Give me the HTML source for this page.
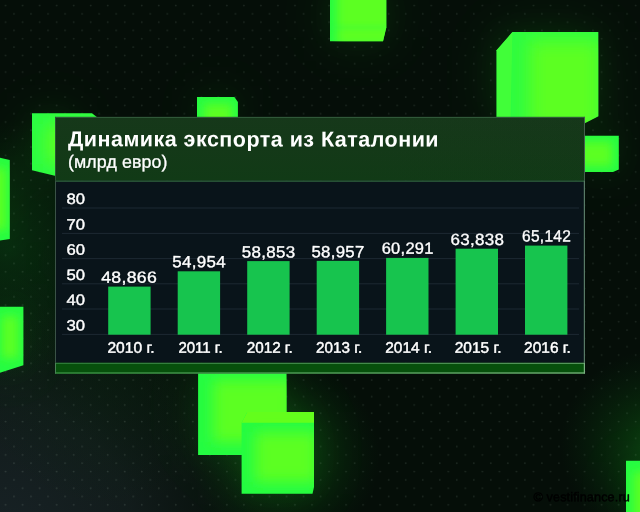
<!DOCTYPE html>
<html lang="ru">
<head>
<meta charset="utf-8">
<title>Динамика экспорта из Каталонии</title>
<style>
html,body{margin:0;padding:0;}
body{width:640px;height:512px;overflow:hidden;background:#050e08;position:relative;font-family:"Liberation Sans",sans-serif;color:#fff;}
#bg{position:absolute;left:0;top:0;width:640px;height:512px;display:block;}
.t{position:absolute;white-space:nowrap;line-height:1;transform-origin:50% 50%;}
.title{font-size:21.5px;font-weight:bold;letter-spacing:0.48px;}
.sub{font-size:17.8px;letter-spacing:0.1px;-webkit-text-stroke:0.3px #fff;}
.ax{font-size:15px;-webkit-text-stroke:0.4px #fff;}
.val{font-size:16.3px;letter-spacing:0.3px;-webkit-text-stroke:0.35px #fff;}
.yr{font-size:15.3px;-webkit-text-stroke:0.45px #fff;}
.wm{font-size:12.7px;color:#000;letter-spacing:0.1px;-webkit-text-stroke:0.4px #000;}
</style>
</head>
<body>
<svg id="bg" width="640" height="512" viewBox="0 0 640 512">
<defs>
<pattern id="dots" x="0" y="0" width="17.03" height="16.645" patternUnits="userSpaceOnUse">
<circle cx="5.5" cy="5.5" r="0.95" fill="#cfe8d8" fill-opacity="0.145"/>
<circle cx="14.02" cy="13.82" r="0.95" fill="#cfe8d8" fill-opacity="0.145"/>
</pattern>
<radialGradient id="gray" cx="0" cy="540" r="300" gradientUnits="userSpaceOnUse"><stop offset="0" stop-color="#182226" stop-opacity="1"/><stop offset="0.45" stop-color="#151f20" stop-opacity="0.8"/><stop offset="1" stop-color="#0a1410" stop-opacity="0"/></radialGradient>
<radialGradient id="gl2" cx="110" cy="370" r="140" gradientUnits="userSpaceOnUse"><stop offset="0" stop-color="#072a0c" stop-opacity="0.3"/><stop offset="1" stop-color="#072a0c" stop-opacity="0"/></radialGradient>
<radialGradient id="gl1" cx="10" cy="250" r="130" gradientUnits="userSpaceOnUse"><stop offset="0" stop-color="#083010" stop-opacity="0.8"/><stop offset="1" stop-color="#083010" stop-opacity="0"/></radialGradient>
<radialGradient id="gl3" cx="655" cy="445" r="95" gradientUnits="userSpaceOnUse"><stop offset="0" stop-color="#0c4a12" stop-opacity="0.85"/><stop offset="0.5" stop-color="#093a0e" stop-opacity="0.45"/><stop offset="1" stop-color="#083010" stop-opacity="0"/></radialGradient>
<radialGradient id="gl4" cx="285" cy="455" r="95" gradientUnits="userSpaceOnUse"><stop offset="0" stop-color="#0a4010" stop-opacity="0.8"/><stop offset="0.5" stop-color="#093a0e" stop-opacity="0.4"/><stop offset="1" stop-color="#083010" stop-opacity="0"/></radialGradient>
<linearGradient id="dg" x1="0" y1="512" x2="640" y2="0" gradientUnits="userSpaceOnUse"><stop offset="0" stop-color="#fff"/><stop offset="0.35" stop-color="#ddd"/><stop offset="1" stop-color="#ccc"/></linearGradient>
<mask id="dm" maskUnits="userSpaceOnUse" x="0" y="0" width="640" height="512"><rect width="640" height="512" fill="url(#dg)"/></mask>
<linearGradient id="hd" x1="0" y1="0" x2="0" y2="1"><stop offset="0" stop-color="#16381a"/><stop offset="0.5" stop-color="#143918"/><stop offset="1" stop-color="#113a16"/></linearGradient>
<linearGradient id="fb1" x1="0" y1="0" x2="1" y2="0"><stop offset="0" stop-color="#348440"/><stop offset="1" stop-color="#68a86e"/></linearGradient>
<linearGradient id="fb2" x1="0" y1="0" x2="1" y2="0"><stop offset="0" stop-color="#3e9848"/><stop offset="1" stop-color="#80ba84"/></linearGradient>
<linearGradient id="hd2" x1="0" y1="0" x2="1" y2="0"><stop offset="0.55" stop-color="#1c2c22" stop-opacity="0"/><stop offset="1" stop-color="#1c2c22" stop-opacity="0.04"/></linearGradient>
<filter id="cb" x="-50%" y="-50%" width="200%" height="200%"><feGaussianBlur stdDeviation="9"/></filter>
<filter id="cb3" x="-50%" y="-50%" width="200%" height="200%"><feGaussianBlur stdDeviation="7"/></filter>
<filter id="cb4" x="-50%" y="-100%" width="200%" height="300%"><feGaussianBlur stdDeviation="2"/></filter>
<filter id="cb2" x="-50%" y="-50%" width="200%" height="200%"><feGaussianBlur stdDeviation="5"/></filter>
<filter id="blur2" x="-100%" y="-100%" width="300%" height="300%"><feGaussianBlur stdDeviation="30"/></filter>
<filter id="blur" x="-50%" y="-50%" width="200%" height="200%"><feGaussianBlur stdDeviation="14"/></filter>
<radialGradient id="c1" cx="358" cy="8" r="44" gradientUnits="userSpaceOnUse"><stop offset="0" stop-color="#5aff22"/><stop offset="0.45" stop-color="#57ff24"/><stop offset="1" stop-color="#20fd44"/></radialGradient>
<radialGradient id="c2" cx="564" cy="78" r="68" gradientUnits="userSpaceOnUse"><stop offset="0" stop-color="#5aff22"/><stop offset="0.45" stop-color="#57ff24"/><stop offset="1" stop-color="#20fd44"/></radialGradient>
<radialGradient id="c3" cx="602" cy="153" r="27" gradientUnits="userSpaceOnUse"><stop offset="0" stop-color="#5aff22"/><stop offset="0.45" stop-color="#57ff24"/><stop offset="1" stop-color="#20fd44"/></radialGradient>
<radialGradient id="c4" cx="217" cy="110" r="26" gradientUnits="userSpaceOnUse"><stop offset="0" stop-color="#5aff22"/><stop offset="0.45" stop-color="#57ff24"/><stop offset="1" stop-color="#20fd44"/></radialGradient>
<radialGradient id="c5" cx="66" cy="142" r="44" gradientUnits="userSpaceOnUse"><stop offset="0" stop-color="#5aff22"/><stop offset="0.45" stop-color="#57ff24"/><stop offset="1" stop-color="#20fd44"/></radialGradient>
<radialGradient id="c6" cx="-18" cy="200" r="52" gradientUnits="userSpaceOnUse"><stop offset="0" stop-color="#5aff22"/><stop offset="0.45" stop-color="#57ff24"/><stop offset="1" stop-color="#20fd44"/></radialGradient>
<radialGradient id="c7" cx="6" cy="338" r="42" gradientUnits="userSpaceOnUse"><stop offset="0" stop-color="#5aff22"/><stop offset="0.45" stop-color="#57ff24"/><stop offset="1" stop-color="#20fd44"/></radialGradient>
<radialGradient id="c8" cx="252" cy="406" r="66" gradientUnits="userSpaceOnUse"><stop offset="0" stop-color="#5aff22"/><stop offset="0.45" stop-color="#57ff24"/><stop offset="1" stop-color="#20fd44"/></radialGradient>
<radialGradient id="c9" cx="284" cy="458" r="56" gradientUnits="userSpaceOnUse"><stop offset="0" stop-color="#5aff22"/><stop offset="0.45" stop-color="#57ff24"/><stop offset="1" stop-color="#20fd44"/></radialGradient>
<radialGradient id="c10" cx="650" cy="498" r="46" gradientUnits="userSpaceOnUse"><stop offset="0" stop-color="#5aff22"/><stop offset="0.45" stop-color="#57ff24"/><stop offset="1" stop-color="#20fd44"/></radialGradient>
</defs>
<rect width="640" height="512" fill="#050e08"/>
<rect width="640" height="512" fill="url(#gray)"/>
<rect width="640" height="512" fill="url(#gl1)"/>
<rect width="640" height="512" fill="url(#gl2)"/>
<rect width="640" height="512" fill="url(#gl3)"/>
<rect width="640" height="512" fill="url(#gl4)"/>
<g filter="url(#blur2)" opacity="0.1">
<rect x="330" y="-10" width="56" height="51" fill="#30ff30"/>
<rect x="496" y="32" width="102" height="90" fill="#30ff30"/>
<rect x="585" y="135" width="34" height="37" fill="#30ff30"/>
<rect x="197" y="97" width="41" height="25" fill="#30ff30"/>
<rect x="32" y="113" width="40" height="60" fill="#30ff30"/>
<rect x="-10" y="158" width="20" height="82" fill="#30ff30"/>
<rect x="-10" y="307" width="33" height="62" fill="#30ff30"/>
<rect x="198" y="370" width="88" height="85" fill="#30ff30"/>
<rect x="242" y="412" width="72" height="82" fill="#30ff30"/>
<rect x="626" y="461" width="24" height="60" fill="#30ff30"/>
</g>
<g filter="url(#blur)" opacity="0.05">
<rect x="330" y="-10" width="56" height="51" fill="#30ff30"/>
<rect x="496" y="32" width="102" height="90" fill="#30ff30"/>
<rect x="585" y="135" width="34" height="37" fill="#30ff30"/>
<rect x="197" y="97" width="41" height="25" fill="#30ff30"/>
<rect x="32" y="113" width="40" height="60" fill="#30ff30"/>
<rect x="-10" y="158" width="20" height="82" fill="#30ff30"/>
<rect x="-10" y="307" width="33" height="62" fill="#30ff30"/>
<rect x="198" y="370" width="88" height="85" fill="#30ff30"/>
<rect x="242" y="412" width="72" height="82" fill="#30ff30"/>
<rect x="626" y="461" width="24" height="60" fill="#30ff30"/>
</g>
<rect width="640" height="512" fill="url(#dots)" mask="url(#dm)"/>
<clipPath id="k1"><polygon points="330,0 386.3,0 386.3,27.5 383,41.3 330,41.3"/></clipPath>
<clipPath id="k2"><polygon points="496.5,50.2 512.4,32 598.3,32 598.3,116.2 585,123 496.5,123"/></clipPath>
<clipPath id="k3"><polygon points="585,135.8 618.8,135.8 618.8,169.6 613,172 585,172"/></clipPath>
<clipPath id="k4"><polygon points="197,97 234.4,97 237.9,102 237.9,120 197,120"/></clipPath>
<clipPath id="k5"><polygon points="32,113.2 92,113.2 98,118 60,177 32,170.3"/></clipPath>
<clipPath id="k6"><polygon points="0,157.8 9.8,160 9.8,239 0,240.5"/></clipPath>
<clipPath id="k7"><polygon points="0,306.8 23.4,306.8 23.4,365.3 0,372.8"/></clipPath>
<clipPath id="k8"><polygon points="198.1,370 286.5,370 286.5,455.1 198.1,455.1"/></clipPath>
<clipPath id="k9"><polygon points="241.6,422.8 247.2,412 314,412 314,487 312.5,493.7 241.6,493.7"/></clipPath>
<clipPath id="k10"><polygon points="626,460.7 640,460.7 640,512 626,512"/></clipPath>
<g clip-path="url(#k1)"><rect x="320" y="-10" width="80" height="60" fill="#26fc42"/><rect x="337" y="-30" width="54" height="76" fill="#5cff20" filter="url(#cb2)"/><polygon points="330,25 386.3,25 386.3,30 330,30" fill="#30fa48" opacity="0.3" filter="url(#cb4)"/></g>
<g clip-path="url(#k2)"><rect x="490" y="25" width="115" height="105" fill="#2efc40"/><rect x="529" y="40" width="72" height="90" fill="#5cff20" filter="url(#cb)"/><polygon points="496.5,50.2 512.4,32 510.5,123 496.5,123" fill="#4aff36" opacity="0.7"/></g>
<g clip-path="url(#k3)"><rect x="580" y="130" width="45" height="45" fill="#26fc42"/><rect x="580" y="142" width="32" height="24" fill="#5cff20" filter="url(#cb2)"/></g>
<g clip-path="url(#k4)"><rect x="190" y="90" width="55" height="35" fill="#26fc42"/><rect x="204" y="104" width="28" height="24" fill="#5cff20" filter="url(#cb2)"/></g>
<g clip-path="url(#k5)"><rect x="25" y="105" width="80" height="80" fill="#2afc44"/><rect x="46" y="124" width="60" height="40" fill="#5cff20" filter="url(#cb)"/></g>
<g clip-path="url(#k6)"><rect x="-5" y="150" width="20" height="100" fill="#26fc42"/><rect x="-20" y="168" width="26" height="62" fill="#5cff20" filter="url(#cb2)"/></g>
<g clip-path="url(#k7)"><rect x="-5" y="300" width="35" height="80" fill="#26fc42"/><rect x="2" y="316" width="16" height="42" fill="#5cff20" filter="url(#cb2)"/></g>
<g clip-path="url(#k8)"><rect x="190" y="365" width="105" height="95" fill="#24fc42"/><rect x="213" y="380" width="80" height="62" fill="#5cff20" filter="url(#cb3)"/></g>
<g clip-path="url(#k9)"><rect x="235" y="405" width="85" height="95" fill="#24fc42"/><rect x="255" y="432" width="62" height="50" fill="#5cff20" filter="url(#cb3)"/><polygon points="241.6,422.8 247.2,412 314,412 314,422.8" fill="#78ff10" opacity="0.75"/></g>
<g clip-path="url(#k10)"><rect x="620" y="455" width="25" height="60" fill="#26fc42"/><rect x="634" y="472" width="20" height="50" fill="#5cff20" filter="url(#cb2)"/></g>
<g>
<rect x="55.0" y="116.9" width="530.0" height="63.69999999999999" fill="url(#hd)"/>
<rect x="55.0" y="116.9" width="530.0" height="63.69999999999999" fill="url(#hd2)"/>
<rect x="55.0" y="180.6" width="530.0" height="182.20000000000002" fill="#09141a"/>
<rect x="55.0" y="362.8" width="530.0" height="10.800000000000011" fill="#07500c"/>
<rect x="55.0" y="116.9" width="530.0" height="1" fill="#335c3e"/>
<rect x="55.0" y="180.6" width="530.0" height="1" fill="#3a7a48"/>
<rect x="55.0" y="362.8" width="530.0" height="1" fill="url(#fb1)"/>
<rect x="55.0" y="372.40000000000003" width="530.0" height="1.2" fill="url(#fb2)"/>
<rect x="55.0" y="116.9" width="1" height="63.69999999999999" fill="#2c5434"/>
<rect x="584.0" y="116.9" width="1" height="63.69999999999999" fill="#44604c"/>
<rect x="55.0" y="180.6" width="1" height="182.20000000000002" fill="#3a5246"/>
<rect x="583.8" y="180.6" width="1.2" height="182.20000000000002" fill="#587a66"/>
<rect x="55.0" y="362.8" width="1" height="10.800000000000011" fill="#4a8256"/>
<rect x="583.8" y="362.8" width="1.2" height="10.800000000000011" fill="#7ab080"/>
</g>
<rect x="62" y="207.50" width="517" height="1" fill="#1d2832"/>
<rect x="62" y="232.90" width="517" height="1" fill="#1d2832"/>
<rect x="62" y="258.10" width="517" height="1" fill="#1d2832"/>
<rect x="62" y="283.30" width="517" height="1" fill="#1d2832"/>
<rect x="62" y="308.50" width="517" height="1" fill="#1d2832"/>
<rect x="62" y="333.90" width="517" height="1" fill="#1d2832"/>
<rect x="108.2" y="286.6" width="42.4" height="48.10" fill="#17c44e"/>
<rect x="177.7" y="271.3" width="42.4" height="63.40" fill="#17c44e"/>
<rect x="247.2" y="261.1" width="42.4" height="73.60" fill="#17c44e"/>
<rect x="316.7" y="260.85" width="42.4" height="73.85" fill="#17c44e"/>
<rect x="386.1" y="257.9" width="42.4" height="76.80" fill="#17c44e"/>
<rect x="455.6" y="248.7" width="42.4" height="86.00" fill="#17c44e"/>
<rect x="525.0" y="245.6" width="42.4" height="89.10" fill="#17c44e"/>
</svg>
<div class="t title" id="title" style="left:68px;top:129px;transform-origin:0 50%;transform:translate(0.00px,0.30px) rotate(0.03deg) scaleX(1.000)">Динамика экспорта из Каталонии</div>
<div class="t sub" id="sub" style="left:68px;top:153px;transform-origin:0 50%;transform:translate(0.00px,0.70px) rotate(0.03deg) scaleX(1.000)">(млрд евро)</div>
<div class="t ax" style="left:66px;top:191px;transform-origin:0 50%;transform:translate(0.60px,0.10px) rotate(0.03deg) scaleX(1.110)">80</div>
<div class="t ax" style="left:66px;top:216px;transform-origin:0 50%;transform:translate(0.60px,0.50px) rotate(0.03deg) scaleX(1.110)">70</div>
<div class="t ax" style="left:66px;top:241px;transform-origin:0 50%;transform:translate(0.60px,0.70px) rotate(0.03deg) scaleX(1.110)">60</div>
<div class="t ax" style="left:66px;top:266px;transform-origin:0 50%;transform:translate(0.60px,0.90px) rotate(0.03deg) scaleX(1.110)">50</div>
<div class="t ax" style="left:66px;top:292px;transform-origin:0 50%;transform:translate(0.60px,0.10px) rotate(0.03deg) scaleX(1.110)">40</div>
<div class="t ax" style="left:66px;top:317px;transform-origin:0 50%;transform:translate(0.60px,0.50px) rotate(0.03deg) scaleX(1.110)">30</div>
<div class="t val" style="left:79px;top:268px;width:100px;text-align:center;transform:translate(0.20px,0.85px) rotate(0.03deg) scaleX(1.085)">48,866</div>
<div class="t val" style="left:149px;top:253px;width:100px;text-align:center;transform:translate(0.20px,0.30px) rotate(0.03deg) scaleX(1.040)">54,954</div>
<div class="t val" style="left:218px;top:243px;width:100px;text-align:center;transform:translate(0.60px,0.60px) rotate(0.03deg) scaleX(1.040)">58,853</div>
<div class="t val" style="left:288px;top:243px;width:100px;text-align:center;transform:translate(0.00px,0.30px) rotate(0.03deg) scaleX(1.030)">58,957</div>
<div class="t val" style="left:357px;top:239px;width:100px;text-align:center;transform:translate(0.70px,0.80px) rotate(0.03deg) scaleX(1.010)">60,291</div>
<div class="t val" style="left:427px;top:230px;width:100px;text-align:center;transform:translate(0.30px,0.90px) rotate(0.03deg) scaleX(1.042)">63,838</div>
<div class="t val" style="left:496px;top:227px;width:100px;text-align:center;transform:translate(0.60px,0.60px) rotate(0.03deg) scaleX(0.951)">65,142</div>
<div class="t yr" style="left:81px;top:339px;width:100px;text-align:center;transform:translate(0.00px,0.70px) rotate(0.03deg) scaleX(1.020)">2010 г.</div>
<div class="t yr" style="left:150px;top:339px;width:100px;text-align:center;transform:translate(0.50px,0.70px) rotate(0.03deg) scaleX(0.980)">2011 г.</div>
<div class="t yr" style="left:219px;top:339px;width:100px;text-align:center;transform:translate(0.75px,0.70px) rotate(0.03deg) scaleX(0.996)">2012 г.</div>
<div class="t yr" style="left:289px;top:339px;width:100px;text-align:center;transform:translate(0.10px,0.70px) rotate(0.03deg) scaleX(0.997)">2013 г.</div>
<div class="t yr" style="left:358px;top:339px;width:100px;text-align:center;transform:translate(0.60px,0.70px) rotate(0.03deg) scaleX(1.012)">2014 г.</div>
<div class="t yr" style="left:428px;top:339px;width:100px;text-align:center;transform:translate(0.10px,0.70px) rotate(0.03deg) scaleX(1.012)">2015 г.</div>
<div class="t yr" style="left:497px;top:339px;width:100px;text-align:center;transform:translate(0.50px,0.70px) rotate(0.03deg) scaleX(1.012)">2016 г.</div>
<div class="t wm" id="wm" style="left:533px;top:491px;transform-origin:0 50%;transform:translate(0.50px,0.30px) rotate(0.03deg) scaleX(1.000)">© vestifinance.ru</div>
</body>
</html>
